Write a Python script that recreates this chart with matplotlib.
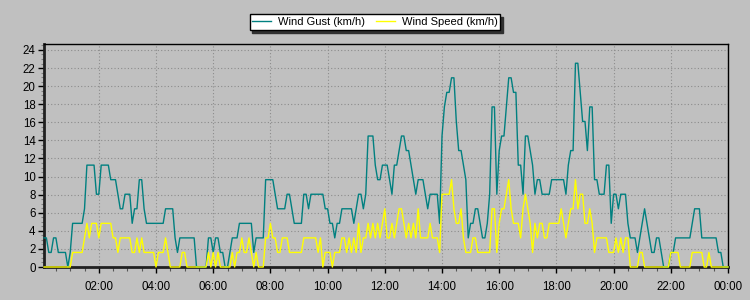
import matplotlib
matplotlib.use('Agg')
import matplotlib.pyplot as plt
from matplotlib.ticker import MultipleLocator, FuncFormatter
import numpy as np

# readings are whole mph steps, the station reports them in km/h
MPH_TO_KMH = 1.609344

# 5-minute samples, 00:05 .. 24:00
start_minute = 5
step_minutes = 5

gust_mph = [
    2, 2, 1, 1, 2, 2, 1, 1, 1, 1,
    0, 1, 3, 3, 3, 3, 3, 4, 7, 7,
    7, 7, 5, 5, 7, 7, 7, 7, 6, 6,
    6, 5, 4, 4, 5, 5, 5, 3, 4, 4,
    6, 6, 4, 3, 3, 3, 3, 3, 3, 3,
    3, 4, 4, 4, 4, 2, 1, 2, 2, 2,
    2, 2, 2, 2, 0, 0, 0, 0, 0, 2,
    2, 1, 2, 2, 1, 1, 0, 0, 1, 2,
    2, 2, 3, 3, 3, 3, 3, 3, 1, 2,
    2, 2, 2, 6, 6, 6, 6, 5, 4, 4,
    4, 4, 5, 5, 4, 3, 3, 3, 3, 5,
    5, 4, 5, 5, 5, 5, 5, 5, 4, 4,
    3, 3, 2, 3, 3, 4, 4, 4, 4, 4,
    3, 4, 5, 5, 4, 5, 9, 9, 9, 7,
    6, 6, 7, 7, 7, 6, 5, 7, 7, 8,
    9, 9, 8, 8, 7, 6, 5, 6, 6, 6,
    5, 4, 5, 5, 5, 5, 3, 9, 11, 12,
    12, 13, 13, 10, 8, 8, 7, 6, 2, 3,
    3, 4, 4, 3, 2, 2, 3, 5, 11, 11,
    5, 8, 9, 9, 11, 13, 13, 12, 12, 7,
    7, 5, 9, 9, 8, 7, 5, 6, 6, 5,
    5, 5, 5, 6, 6, 6, 6, 6, 6, 5,
    7, 8, 8, 14, 14, 12, 10, 10, 8, 11,
    11, 6, 6, 5, 5, 5, 7, 7, 3, 5,
    5, 4, 5, 5, 5, 3, 2, 2, 2, 1,
    2, 3, 4, 3, 2, 1, 1, 2, 2, 1,
    0, 0, 0, 1, 1, 2, 2, 2, 2, 2,
    2, 2, 3, 4, 4, 4, 2, 2, 2, 2,
    2, 2, 2, 1, 1, 0, 0, 0,
]

speed_mph = [
    0, 0, 0, 0, 0, 0, 0, 0, 0, 0,
    0, 0, 1, 1, 1, 1, 1, 2, 3, 2,
    3, 3, 3, 2, 3, 3, 3, 3, 3, 2,
    2, 1, 2, 2, 2, 2, 2, 1, 1, 2,
    1, 2, 1, 1, 1, 1, 1, 0, 1, 1,
    1, 2, 1, 0, 0, 0, 0, 0, 1, 1,
    0, 0, 0, 0, 0, 0, 0, 0, 0, 1,
    0, 1, 0, 1, 0, 0, 0, 0, 0, 1,
    0, 1, 1, 2, 1, 1, 2, 1, 0, 1,
    0, 0, 0, 2, 2, 3, 2, 2, 1, 1,
    2, 2, 2, 1, 1, 1, 1, 1, 1, 2,
    2, 2, 2, 2, 2, 1, 2, 0, 1, 1,
    1, 0, 1, 1, 1, 2, 2, 1, 2, 1,
    2, 1, 3, 1, 2, 2, 3, 2, 3, 2,
    3, 2, 3, 4, 2, 2, 3, 2, 3, 4,
    4, 3, 2, 3, 2, 3, 2, 4, 2, 2,
    2, 2, 3, 2, 2, 2, 1, 5, 5, 5,
    5, 6, 4, 3, 3, 4, 2, 1, 1, 1,
    2, 2, 1, 1, 1, 1, 1, 1, 4, 4,
    1, 3, 4, 4, 5, 6, 4, 3, 3, 3,
    2, 4, 5, 4, 3, 1, 3, 2, 3, 3,
    2, 2, 3, 3, 3, 3, 3, 4, 3, 2,
    3, 4, 4, 6, 4, 5, 5, 3, 3, 4,
    3, 1, 2, 2, 2, 2, 2, 1, 1, 1,
    2, 1, 2, 1, 2, 2, 0, 0, 0, 0,
    1, 1, 0, 0, 0, 0, 0, 0, 0, 0,
    0, 0, 0, 1, 1, 1, 1, 0, 0, 0,
    0, 0, 1, 1, 1, 1, 1, 0, 0, 1,
    0, 0, 0, 0, 0, 0, 0, 0,
]

series_labels = ['Wind Gust (km/h)', 'Wind Speed (km/h)']
series_colors = ['#008080', '#ffff00']

bg = '#c0c0c0'

gust = np.array(gust_mph) * MPH_TO_KMH
speed = np.array(speed_mph) * MPH_TO_KMH
hours = (start_minute + step_minutes * np.arange(len(gust))) / 60.0

plt.rcParams['font.family'] = ['Liberation Sans', 'DejaVu Sans']

fig = plt.figure(figsize=(7.5, 3), dpi=100, facecolor=bg)
ax = fig.add_axes([44 / 750, 33 / 300, 684 / 750, 223 / 300])
ax.set_facecolor(bg)

l1, = ax.plot(hours, gust, color=series_colors[0], lw=1.0, zorder=3, clip_on=False)
l2, = ax.plot(hours, speed, color=series_colors[1], lw=1.0, zorder=4, clip_on=False)

ax.set_xlim(hours[0], 24)
ax.set_ylim(0, 24.66)

ax.yaxis.set_major_locator(MultipleLocator(2))
ax.yaxis.set_minor_locator(MultipleLocator(0.5))
ax.xaxis.set_major_locator(MultipleLocator(2))
ax.xaxis.set_minor_locator(MultipleLocator(0.5))
ax.xaxis.set_major_formatter(FuncFormatter(lambda h, p: '%02d:00' % (int(round(h)) % 24)))

ax.grid(True, which='major', color='#8c8c8c', linestyle=(0, (1, 2)), linewidth=0.8, zorder=1)

ax.tick_params(axis='both', which='major', length=4, width=1, color='black',
               labelsize=8.3, labelcolor='black', direction='out')
ax.tick_params(axis='y', which='minor', length=2, width=0.8, color='#808080', direction='out')
ax.tick_params(axis='x', which='minor', length=3, width=0.8, color='#555555', direction='out')
ax.tick_params(axis='x', which='major', pad=6)
ax.tick_params(axis='y', which='major', pad=2)

for side in ['top', 'right']:
    ax.spines[side].set_linewidth(1.0)
    ax.spines[side].set_color('black')
for side in ['left', 'bottom']:
    ax.spines[side].set_linewidth(2.0)
    ax.spines[side].set_color('#202020')
    ax.spines[side].set_zorder(2)

leg = fig.legend([l1, l2], series_labels, loc='center', bbox_to_anchor=(375 / 750, 1 - 22 / 300),
                 ncol=2, fontsize=8.0, frameon=True, fancybox=False,
                 shadow={'color': '#303030', 'alpha': 1},
                 edgecolor='black', facecolor='white', framealpha=1, handlelength=1.7,
                 handletextpad=0.6, columnspacing=1.0, borderpad=0.25, borderaxespad=0)
leg.get_frame().set_linewidth(1.0)

fig.savefig('out.png', dpi=100, facecolor=bg)
